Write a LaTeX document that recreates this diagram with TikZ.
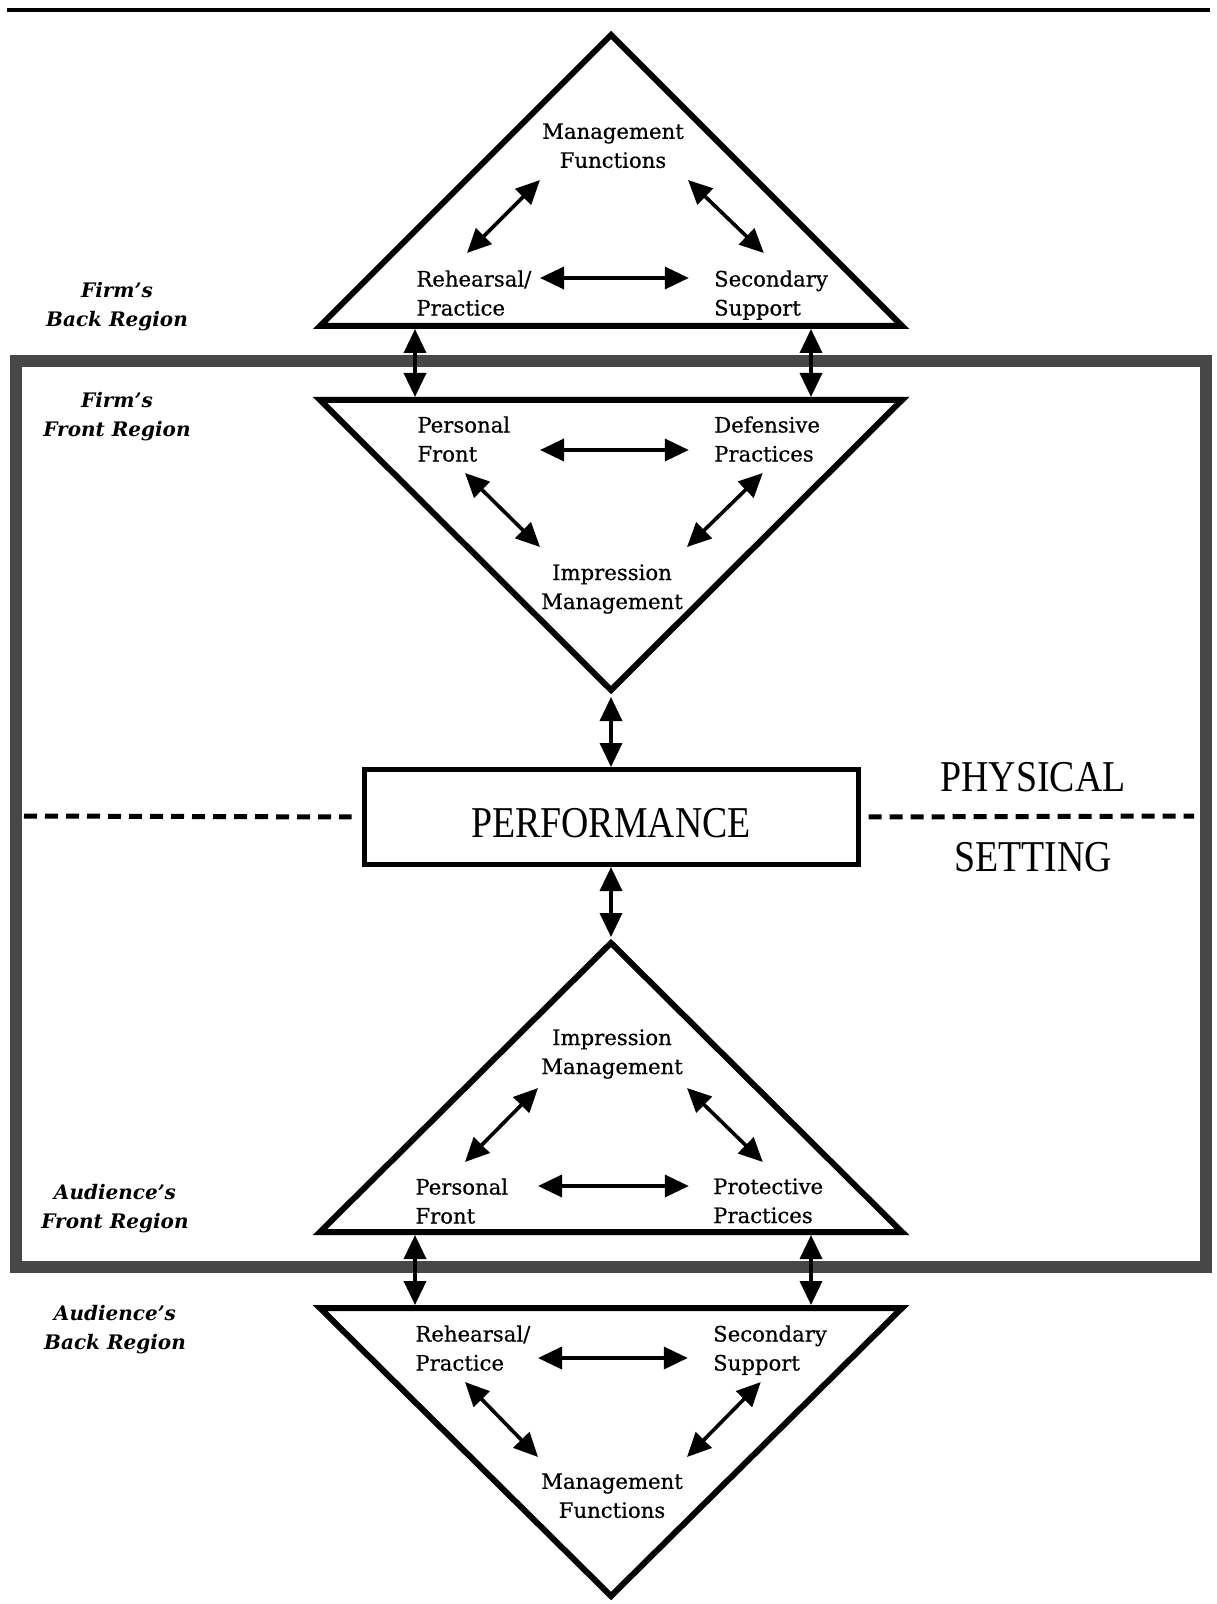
\documentclass[tikz,border=0pt]{standalone}
\usepackage{fontspec}
\setmainfont{DejaVu Serif}
\newfontfamily\trifont[FakeBold=0.6]{DejaVu Serif}
\newfontfamily\capsfont[FakeStretch=0.86]{Liberation Serif}
\usetikzlibrary{arrows.meta, positioning}

\begin{document}
\begin{tikzpicture}[x=0.5pt, y=-0.5pt, >={Triangle[length=12pt,width=11pt]},
    tri/.style={line width=3pt, line join=miter},
    corner/.style={font=\trifont\fontsize{10.6}{14.5}\selectfont, inner sep=0pt, text width=60pt, align=left, anchor=north west},
    apexlabel/.style={font=\trifont\fontsize{10.6}{14.5}\selectfont, inner sep=0pt, align=center, anchor=north},
    region/.style={font=\fontsize{10}{14.5}\selectfont\bfseries\itshape, inner sep=0pt, align=center},
    bigcaps/.style={font=\capsfont\fontsize{22}{26}\selectfont, inner sep=0pt},
    link/.style={<->, line width=1.8pt},
    divider/.style={line width=2.5pt, dash pattern=on 6.5pt off 4pt},
    wallframe/.style={line width=6pt, draw=black!72}]
  \useasboundingbox (0,0) rectangle (1216,1604);

  % rule across the top
  \coordinate (rule west) at (7,10);
  \coordinate (rule east) at (1210,10);
  \draw[line width=2pt] (rule west) -- (rule east);

  % physical setting
  \draw[wallframe] (16,361) rectangle (1206,1267);

  % triangles
  \coordinate (t1 top)   at (611,35);   \coordinate (t1 left)  at (320,326);  \coordinate (t1 right) at (902,326);
  \coordinate (t2 left)  at (320,400);  \coordinate (t2 right) at (902,400);  \coordinate (t2 apex)  at (611,690);
  \coordinate (t3 top)   at (611,943);  \coordinate (t3 left)  at (320,1232); \coordinate (t3 right) at (902,1232);
  \coordinate (t4 left)  at (320,1308); \coordinate (t4 right) at (902,1308); \coordinate (t4 apex)  at (611,1596);
  \draw[tri] (t1 top) -- (t1 right) -- (t1 left) -- cycle;
  \draw[tri] (t2 left) -- (t2 right) -- (t2 apex) -- cycle;
  \draw[tri] (t3 top) -- (t3 right) -- (t3 left) -- cycle;
  \draw[tri] (t4 left) -- (t4 right) -- (t4 apex) -- cycle;

  % region names
  \node[region] (fbr) at (117,307)  {Firm's\\Back Region};
  \node[region] (ffr) at (117,417)  {Firm's\\Front Region};
  \node[region] (afr) at (115,1209) {Audience's\\Front Region};
  \node[region] (abr) at (115,1330) {Audience's\\Back Region};

  % firm's back region
  \node[apexlabel] (mf1) at (613,123)                                     {Management\\Functions};
  \node[corner]    (rp1) at (416,270)                                     {Rehearsal/\\Practice};
  \node[corner]    (ss1) [right=88.5pt of rp1.north east, anchor=north west] {Secondary\\Support};
  \path[link] ([shift={(124,8)}]rp1.north west)  edge ([shift={(-25,8)}]ss1.north west);
  \path[link] ([shift={(51,-17)}]rp1.north west) edge ([shift={(-73,57)}]mf1.north);
  \path[link] ([shift={(75,57)}]mf1.north)       edge ([shift={(50,-17)}]ss1.north west);

  % firm's front region
  \node[corner]    (pf2) at (417,416)                                     {Personal\\Front};
  \node[corner]    (dp2) [right=88pt of pf2.north east, anchor=north west] {Defensive\\Practices};
  \node[apexlabel] (im2) at (612,564)                                     {Impression\\Management};
  \path[link] ([shift={(123,34)}]pf2.north west) edge ([shift={(-25,34)}]dp2.north west);
  \path[link] ([shift={(48,57)}]pf2.north west)  edge ([shift={(-72,-17)}]im2.north);
  \path[link] ([shift={(75,-17)}]im2.north)      edge ([shift={(49,57)}]dp2.north west);

  % audience's front region
  \node[apexlabel] (im3) at (612,1029)                                    {Impression\\Management};
  \node[corner]    (pf3) at (415,1178)                                    {Personal\\Front};
  \node[corner]    (pp3) [right=88.5pt of pf3.north east, anchor=north west] {Protective\\Practices};
  \path[link] ([shift={(123,8)}]pf3.north west)  edge ([shift={(-24,8)}]pp3.north west);
  \path[link] ([shift={(50,-16)}]pf3.north west) edge ([shift={(-74,59)}]im3.north);
  \path[link] ([shift={(75,59)}]im3.north)       edge ([shift={(50,-16)}]pp3.north west);

  % audience's back region
  \node[corner]    (rp4) at (415,1325)                                    {Rehearsal/\\Practice};
  \node[corner]    (ss4) [right=88.5pt of rp4.north east, anchor=north west] {Secondary\\Support};
  \node[apexlabel] (mf4) at (612,1473)                                    {Management\\Functions};
  \path[link] ([shift={(123,33)}]rp4.north west) edge ([shift={(-25,33)}]ss4.north west);
  \path[link] ([shift={(50,57)}]rp4.north west)  edge ([shift={(-74,-16)}]mf4.north);
  \path[link] ([shift={(75,-16)}]mf4.north)      edge ([shift={(48,57)}]ss4.north west);

  % links across the back/front boundaries
  \coordinate (t1 base a) at (415,326);  \coordinate (t2 top a) at (415,400);
  \coordinate (t1 base b) at (811,326);  \coordinate (t2 top b) at (811,400);
  \coordinate (t3 base a) at (415,1232); \coordinate (t4 top a) at (415,1308);
  \coordinate (t3 base b) at (811,1232); \coordinate (t4 top b) at (811,1308);
  \path[link, shorten <=1.5pt, shorten >=1.5pt] (t1 base a) edge (t2 top a);
  \path[link, shorten <=1.5pt, shorten >=1.5pt] (t1 base b) edge (t2 top b);
  \path[link, shorten <=1.5pt, shorten >=1.5pt] (t3 base a) edge (t4 top a);
  \path[link, shorten <=1.5pt, shorten >=1.5pt] (t3 base b) edge (t4 top b);

  % performance
  \node[draw, line width=2.5pt, minimum width=247pt, minimum height=47.5pt, bigcaps, text height=20.6pt]
        (perf) at (611,817) {PERFORMANCE};
  \path[link, shorten <=3.5pt] (t2 apex) edge (perf.north);
  \path[link, shorten >=3pt]   (perf.south) edge (t3 top);

  \coordinate (div west) at (24,816);
  \coordinate (div east) at (1194,816);
  \draw[divider, shorten >=5pt] (div west) -- (perf.west);
  \draw[divider, shorten <=4pt] (perf.east) -- (div east);

  \node[bigcaps] (phys) at (1033,777) {PHYSICAL};
  \node[bigcaps] (sett) at (1033,857) {SETTING};
\end{tikzpicture}
\end{document}
